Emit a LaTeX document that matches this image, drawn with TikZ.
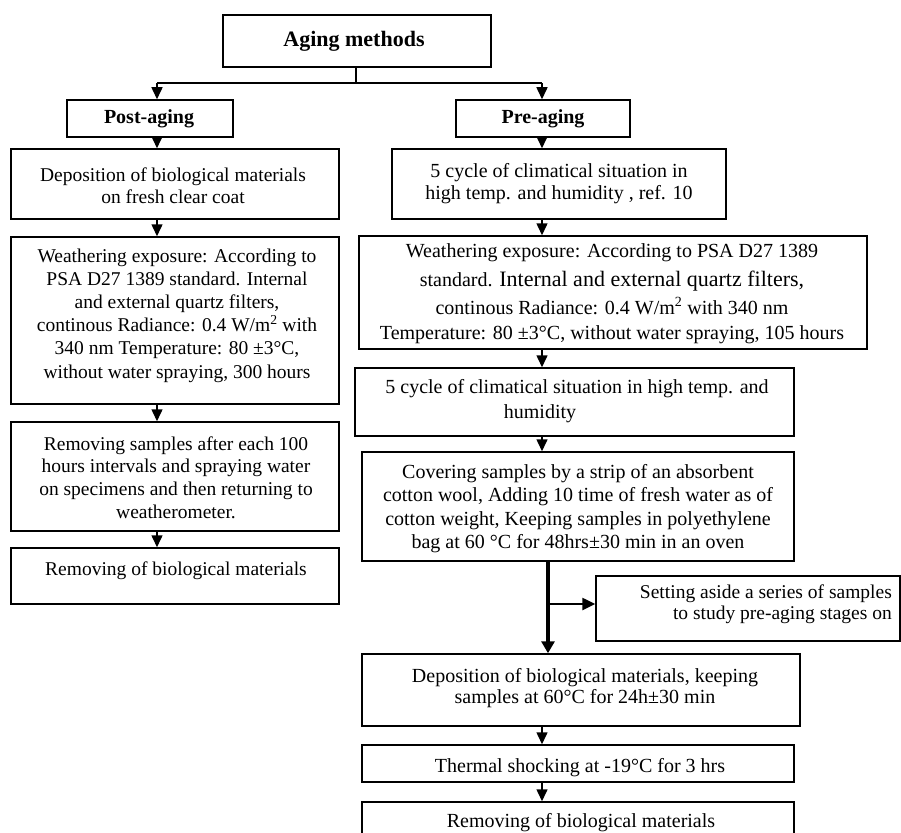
\documentclass[tikz,border=0pt]{standalone}
\usepackage{fontspec}
\setmainfont{Liberation Serif}
\usetikzlibrary{arrows.meta}
\begin{document}
\begin{tikzpicture}[x=1pt,y=-1pt,
  box/.style={draw, line width=1.5pt, inner sep=0pt},
  txt/.style={inner sep=0pt, align=center, font=\fontsize{20}{23}\selectfont},
  hdr/.style={inner sep=0pt, align=center, font=\bfseries\fontsize{20}{23}\selectfont},
  arr/.style={line width=1.5pt, -{Triangle[width=11pt,length=12pt]}},
  thickarr/.style={line width=4.5pt, -{Triangle[width=13pt,length=12pt]}},
  sidearr/.style={line width=2.5pt, -{Triangle[width=12pt,length=13pt]}},
]
\useasboundingbox (0,0) rectangle (901,832);
\fill[white] (0,0) rectangle (901,832);
\clip (0,0) rectangle (901,832);

% column x coordinates
\coordinate (cL) at (157,0);
\coordinate (cR) at (542,0);
\coordinate (cT) at (548,0);
\coordinate (jM) at (356,83);
\coordinate (jL) at (157,83);
\coordinate (jR) at (542,83);
\coordinate (br) at (548,604);

% ---- boxes ----
\node[box, minimum width=268pt, minimum height=52pt] (A) at (357,41) {};
\node[box, minimum width=166pt, minimum height=37pt] (P) at (150,118.5) {};
\node[box, minimum width=174pt, minimum height=37pt] (Q) at (543,118.5) {};

\node[box, minimum width=328pt, minimum height=70pt]  (L1) at (175,184) {};
\node[box, minimum width=328pt, minimum height=167pt] (L2) at (175,320.5) {};
\node[box, minimum width=328pt, minimum height=109pt] (L3) at (175,476.5) {};
\node[box, minimum width=328pt, minimum height=56pt]  (L4) at (175,576) {};

\node[box, minimum width=334pt, minimum height=70pt]  (R1) at (559,184) {};
\node[box, minimum width=508pt, minimum height=113pt] (R2) at (613,292.5) {};
\node[box, minimum width=439pt, minimum height=68pt]  (R3) at (574.5,402) {};
\node[box, minimum width=432pt, minimum height=109pt] (R4) at (578,506.5) {};
\node[box, minimum width=304pt, minimum height=65pt]  (S)  at (748,608.5) {};
\node[box, minimum width=438pt, minimum height=72pt]  (R5) at (581,690) {};
\node[box, minimum width=432pt, minimum height=37pt]  (R6) at (578,763.5) {};
\node[box, minimum width=432pt, minimum height=48pt]  (R7) at (578,826) {};

% ---- texts ----
\node[hdr, font=\bfseries\fontsize{22}{26}\selectfont] (tA) at (354,41) {Aging methods};
\node[hdr] (tP) at (149,119) {Post-aging};
\node[hdr] (tQ) at (543,119) {Pre-aging};

\node[txt, font=\fontsize{19.5}{22}\selectfont] (tL1) at (173,185.5) {Deposition of biological materials\\on fresh clear coat};
\node[txt, font=\fontsize{19.5}{23.2}\selectfont] (tL2) at (177,315.5) {Weathering exposure: According to\\PSA D27 1389 standard. Internal\\and external quartz filters,\\continous Radiance: 0.4 W/m\textsuperscript{2} with\\340 nm Temperature: 80 ±3°C,\\without water spraying, 300 hours};
\node[txt, font=\fontsize{19.5}{22.7}\selectfont] (tL3) at (176,477.5) {Removing samples after each 100\\hours intervals and spraying water\\on specimens and then returning to\\weatherometer.};
\node[txt, font=\fontsize{19.5}{23}\selectfont] (tL4) at (176,571) {Removing of biological materials};

\node[txt, font=\fontsize{20}{22}\selectfont] (tR1) at (559,183.5) {5 cycle of climatical situation in\\high temp. and humidity , ref. 10};
\node[txt] (tR2) at (612,293.5) {Weathering exposure: According to PSA D27 1389\\[6pt]standard. {\fontsize{22}{23}\selectfont Internal and external quartz filters,}\\[5pt]continous Radiance: 0.4 W/m\textsuperscript{2} with 340 nm\\[2pt]Temperature: 80 ±3°C, without water spraying, 105 hours};
\node[txt, font=\fontsize{20}{25}\selectfont] (tR3) at (577,401) {5 cycle of climatical situation in high temp. and\\humidity\hspace*{74pt}};
\node[txt, font=\fontsize{20}{23.3}\selectfont] (tR4) at (578,508.5) {Covering samples by a strip of an absorbent\\cotton wool, Adding 10 time of fresh water as of\\cotton weight, Keeping samples in polyethylene\\bag at 60 °C for 48hrs±30 min in an oven};
\node[txt, align=right, anchor=east, font=\fontsize{19.5}{21}\selectfont] (tS) at (892,604) {Setting aside a series of samples\\to study pre-aging stages on};
\node[txt, font=\fontsize{20}{21}\selectfont] (tR5) at (585,688) {Deposition of biological materials, keeping\\samples at 60°C for 24h±30 min};
\node[txt] (tR6) at (580,768) {Thermal shocking at -19°C for 3 hrs};
\node[txt] (tR7) at (581,823) {Removing of biological materials};

% ---- connectors ----
\draw[line width=1.5pt] (A.south -| jM) -- (jM);
\draw[line width=1.5pt] (jL) -- (jR);
\draw[arr] (jL) -- (P.north -| jL);
\draw[arr] (jR) -- (Q.north -| jR);

\draw[arr] (P.south -| cL) -- (L1.north -| cL);
\draw[arr] (L1.south -| cL) -- (L2.north -| cL);
\draw[arr] (L2.south -| cL) -- (L3.north -| cL);
\draw[arr] (L3.south -| cL) -- (L4.north -| cL);

\draw[arr] (Q.south -| cR) -- (R1.north -| cR);
\draw[arr] (R1.south -| cR) -- (R2.north -| cR);
\draw[arr] (R2.south -| cR) -- (R3.north -| cR);
\draw[arr] (R3.south -| cR) -- (R4.north -| cR);
\draw[thickarr] (R4.south -| cT) -- (R5.north -| cT);
\draw[sidearr] (br) -- (S.west |- br);
\draw[arr] (R5.south -| cR) -- (R6.north -| cR);
\draw[arr] (R6.south -| cR) -- (R7.north -| cR);
\end{tikzpicture}
\end{document}
